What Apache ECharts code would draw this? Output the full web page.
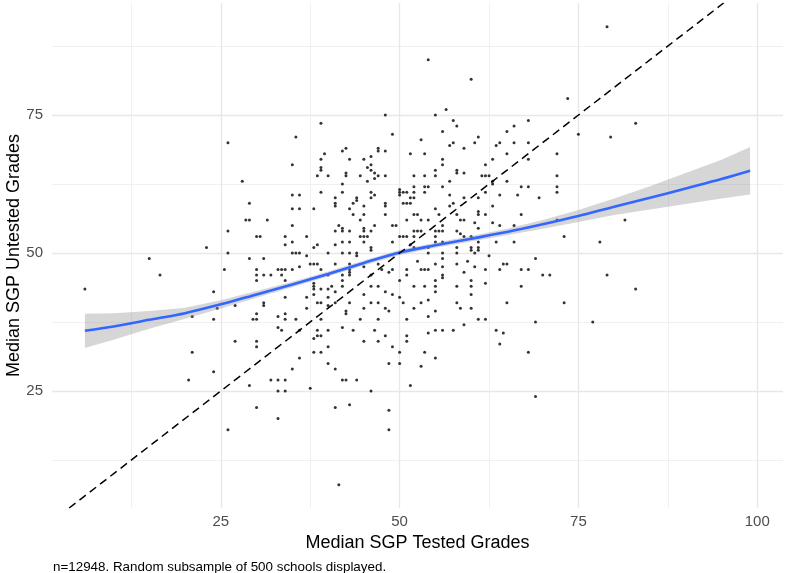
<!DOCTYPE html>
<html>
<head>
<meta charset="utf-8">
<script src="https://cdn.jsdelivr.net/npm/echarts@6/dist/echarts.min.js"></script>
<style>
html,body{margin:0;padding:0;background:#fff;}
#chart{width:785px;height:573px;}
</style>
</head>
<body>
<div id="chart"></div>
<script>
// ---- Data ----
const xRange = [1.4, 103.6];
const yRange = [3.8, 95.3];
const xTickLabels = [25, 50, 75, 100];
const yTickLabels = [25, 50, 75];
const xMinorGrid = [12.5, 37.5, 62.5, 87.5];
const yMinorGrid = [12.5, 37.5, 62.5, 87.5];

// [median SGP tested grades, median SGP untested grades]
const schoolPoints = [
[26,70],[35.5,71],[35,66],[28,63],[35,60.5],[36,60.5],[29,59],[35,58],[36,58],[28.5,56],[29,56],[31.5,56],[35,55],[26,54],[30,53],[30.5,53],[34,53],[34,51.5],[35,52],[23,51],
[48,75],[39,73.5],[49,71.5],[39.5,68],[42,68.5],[42.5,69],[39,67],[43,67],[45,67],[46,67.5],[47,69],[47,68.5],[48,68.5],[46,66],[45.5,65.5],[39,65.5],[39,65],[46,65],[46.5,64.5],[47,64],[42.5,64.5],[42.5,64],[38.5,64],[40,64],[44.5,64],[46.5,63.5],[45.5,63],[48,64],[42,62.5],[39,61],[42,61],[46,61],[46.5,60.5],[46,60],[50,61.5],[50,61],[50,60.5],[50.5,61],[41,60],[44,60],[44,59.5],[43.5,59],[41,59],[41,58.5],[48,59],[48,58.5],[45,58.5],[38,58],[43,58],[50.5,59],[43.5,57],[45,57],[48,57],[44.5,56],[41.5,55],[46.5,55],[49,55],[49.5,55],[42,54.5],[42,54],[41,54],[43,54],[45,54.5],[45,54],[46,54],[44.5,53],[45,53],[45.5,53],[37,53],[50,53],[50.5,53],[42,52],[43,52],[41,51.5],[45,52],[49,52],[38.5,51.5],[38,51],[46,51],
[54,85],[60,81.5],[56.5,76],[55,75],[57.5,74],[58,73],[56,72],[53,70.5],[61,71],[60.5,70],[57.5,70],[57,69.5],[59,69],[65,72],[64,70],[63.5,69.5],[65,68],[51.5,68],[53.5,68],[56,67],[56,66],[63,67],[62,66],[55,65],[58,65],[58,64.5],[59,64.5],[52,64],[53.5,64],[55,64],[61.5,64],[62,64],[62.5,64],[57,63],[63,63],[63,62.5],[65,63],[52,62],[53.5,62],[54,62],[56,62],[51,61],[52,61],[53.5,61],[51.5,60],[52,60],[57,60.5],[59,60],[61,60],[62,61],[64,60.5],[51,59],[51.5,59],[57.5,59],[57,58.5],[63,58.5],[55,58],[61,57.5],[61,57],[52,57],[52.5,57],[55.5,57],[58,57],[62,57],[51,56],[53,56],[54,56],[58.5,56],[59,56],[60.5,55.5],[63,55.5],[64,55],[56,55],[52,54],[52.5,54],[53,54],[55,54],[55.5,54],[56,54],[58,54],[61,54.5],[58.5,53.5],[51,53],[52,53],[55,53],[59,53],[60,53],[63.5,52],[61,52],[56,52],[55,52],[51.5,51.5],[52,51],[54,51],[58,51],[60,51],[61,51],
[73.5,78],[75,71.5],[79.5,71],[66,73],[68,74],[66,70],[68,70],[68,67],[72,68],[72,64],[67,62],[68,62],[72,62],[72,61],[66.5,60.5],[69.5,60],[67,57],[72,56],[66,55],[66,52],[73,53],[78,52],
[79,91],[83,73.5],[81.5,56],[79,46],[83,43.5],
[73,41],[77,37.5],[69,37.5],[68,32],[69,24],[67,44],[65,41],[63.5,36],[64.5,35.5],[64,33.5],[62,44.5],[60,44],[60,42.5],[58,44],[58,41],[58.5,40],[60,40],[61,38],[62,38],[59,37],[55,36],[56,36],[57.5,36],[54,35.5],[55,31],[53.5,32],[53,29.5],[51.5,26],[51,35],[51,34],[50,32],[50,30],[48.5,30],[49,33],[48.5,21.5],[48.5,18],[54,38.5],[54,41.5],[53,41],[52,40],[50.5,41],[51,38],[55,39.5],[52,44],[53.5,44],[55,44],[50,42],[55,43],[48,43],[49,42.5],[48,40],[48.5,39.5],[48,35],
[26,50],[29,49],[31,49],[35,50],[35.5,50],[25.5,47],[30,47],[30,46],[30,45],[31,46],[32,46],[33,47],[33.5,47],[34,47],[35,47],[33.5,46],[34,45],[24,43],[24.5,40],[27,40.5],[31,41],[31,40.5],[34,42],[24,38],[29.5,38],[30,38],[30,39],[33,38.5],[34,39],[34,38],[35.5,38],[33,36.5],[33.5,36],[27,34],[30,34],[30,33],[36,31],[35,29],[24,28.5],[29,26],[32,27],[33,27],[34,27],[33,25],[34,25],[30,22],[33,20],[26,18],
[37,49.5],[40,50],[42,50],[43,50],[44,50],[44,49.5],[46,50.5],[36,47.5],[37.5,48],[38,48],[38.5,48],[41,48],[43,48],[43,47],[43,46.5],[43,46],[45,47.5],[47,48],[47.5,47],[39,47],[42,46],[42,45],[40,46],[46,46],[48.5,46.5],[49,47],[50,45],[38,44.5],[38,44],[38,43.5],[39,43.5],[40.5,44],[42,44],[46,44],[47,44],[38,42.5],[40,43.5],[40,42],[41,43],[45,42.5],[37,42],[38.5,41],[39,41],[41,41],[43,41],[46,41],[47,41],[40,40.5],[37,40],[42.5,39.5],[42.5,39],[45,40],[39,38],[44.5,38],[47,38],[42,36.5],[36,36],[38.5,36],[40,36],[43.5,36],[46.5,36],[38.5,35],[39,35],[38,34.5],[45,34],[40,33],[38,32],[39,32],[40,30],[41,29],[42,27],[42.5,27],[44,27],[37.5,25.5],[46,25],[41,22],[43,22.5],[41.5,8],[47,34],[36,50],
[54,50],[56,50],[58,50],[60,50.5],[60.5,50],[61,50.5],[62.5,49.5],[56,49],[52.5,48.5],[55,48],[56,47.5],[58,48],[59.5,48.5],[60.5,47.5],[64.5,48],[65,48],[51,47],[51,46],[53,47],[53.5,47],[54,47],[62,47],[64,47],[56,46],[56,45.5],[59,46.5],[55,45],[60,45],
[69,49],[67,47],[68,47],[70,46],[71,46],
[6,43.5],[15,49],[16.5,46],[21,38.5],[21,32],[20.5,27]
];

// loess fit and its confidence band
const smoothX     = [6, 10, 15, 20, 25, 30, 35, 40, 45, 50, 55, 60, 65, 70, 75, 80, 85, 90, 95, 99];
const smoothY     = [35.9, 36.7, 37.9, 39.1, 40.7, 42.5, 44.3, 46.2, 48.2, 50.1, 51.4, 52.6, 53.8, 55.2, 56.7, 58.4, 60.0, 61.7, 63.4, 64.9];
const smoothUpper = [39.0, 39.1, 39.5, 40.1, 41.45, 43.1, 44.8, 46.65, 48.65, 50.55, 51.85, 53.1, 54.4, 56.0, 57.8, 59.9, 62.1, 64.5, 66.9, 69.2];
const smoothLower = [32.8, 34.3, 36.3, 38.1, 39.95, 41.9, 43.8, 45.75, 47.75, 49.65, 50.95, 52.1, 53.2, 54.4, 55.6, 56.9, 57.9, 58.9, 59.9, 60.6];

const xTitle = 'Median SGP Tested Grades';
const yTitle = 'Median SGP Untested Grades';
const caption = 'n=12948. Random subsample of 500 schools displayed.';

// ---- Chart ----
const FONT = 'Liberation Sans, Arial, sans-serif';
const chart = echarts.init(document.getElementById('chart'), null, {renderer: 'canvas'});

const majorX = xTickLabels.map(v => ({xAxis: v}));
const majorY = yTickLabels.map(v => ({yAxis: v}));
const minorX = xMinorGrid.map(v => ({xAxis: v}));
const minorY = yMinorGrid.map(v => ({yAxis: v}));

const option = {
  animation: false,
  backgroundColor: '#ffffff',
  textStyle: {fontFamily: FONT},
  title: {
    text: caption,
    left: 48,
    top: 556,
    textStyle: {fontSize: 13.4, fontWeight: 'normal', color: '#000', fontFamily: FONT}
  },
  grid: {left: 52, right: 2, top: 3, bottom: 65, containLabel: false, outerBoundsMode: 'none'},
  xAxis: {
    type: 'value',
    min: xRange[0], max: xRange[1],
    name: xTitle,
    nameLocation: 'middle',
    nameGap: 25,
    nameTextStyle: {fontSize: 18, color: '#000', fontFamily: FONT},
    axisLine: {show: false},
    axisTick: {show: false},
    splitLine: {show: false},
    axisLabel: {customValues: xTickLabels, margin: 6, fontSize: 15, color: '#4d4d4d', fontFamily: FONT}
  },
  yAxis: {
    type: 'value',
    min: yRange[0], max: yRange[1],
    name: yTitle,
    nameLocation: 'middle',
    nameGap: 29,
    nameMoveOverlap: false,
    nameTextStyle: {fontSize: 18, color: '#000', fontFamily: FONT},
    axisLine: {show: false},
    axisTick: {show: false},
    splitLine: {show: false},
    axisLabel: {customValues: yTickLabels, margin: 9, fontSize: 15, color: '#4d4d4d', fontFamily: FONT}
  },
  series: [
    {
      name: 'minorGrid', type: 'line', data: [], silent: true, z: 0,
      markLine: {
        silent: true, symbol: 'none', label: {show: false}, animation: false, z: 0,
        lineStyle: {color: '#f0f0f0', width: 1, type: 'solid'},
        emphasis: {disabled: true},
        data: minorX.concat(minorY)
      }
    },
    {
      name: 'majorGrid', type: 'line', data: [], silent: true, z: 0,
      markLine: {
        silent: true, symbol: 'none', label: {show: false}, animation: false, z: 0,
        lineStyle: {color: '#e8e8e8', width: 1.4, type: 'solid'},
        emphasis: {disabled: true},
        data: majorX.concat(majorY)
      }
    },
    {
      name: 'schools', type: 'scatter', data: schoolPoints, symbolSize: 3,
      itemStyle: {color: '#000'}, silent: true, z: 2
    },
    {
      name: 'band', type: 'custom', silent: true, z: 3,
      data: [[smoothX[0], smoothY[0]]],
      renderItem: function (params, api) {
        const pts = [];
        for (let i = 0; i < smoothX.length; i++) pts.push(api.coord([smoothX[i], smoothUpper[i]]));
        for (let i = smoothX.length - 1; i >= 0; i--) pts.push(api.coord([smoothX[i], smoothLower[i]]));
        return {type: 'polygon', shape: {points: pts}, style: {fill: 'rgba(153,153,153,0.4)'}};
      }
    },
    {
      name: 'loess', type: 'line', smooth: 0.3, showSymbol: false, silent: true, z: 4,
      data: smoothX.map((x, i) => [x, smoothY[i]]),
      lineStyle: {color: '#3366FF', width: 2.6}
    },
    {
      name: 'identity', type: 'line', showSymbol: false, silent: true, z: 5,
      data: [[yRange[0], yRange[0]], [yRange[1], yRange[1]]],
      lineStyle: {color: '#000', width: 1.5, type: [8, 5]}
    }
  ]
};
chart.setOption(option);
</script>
</body>
</html>
